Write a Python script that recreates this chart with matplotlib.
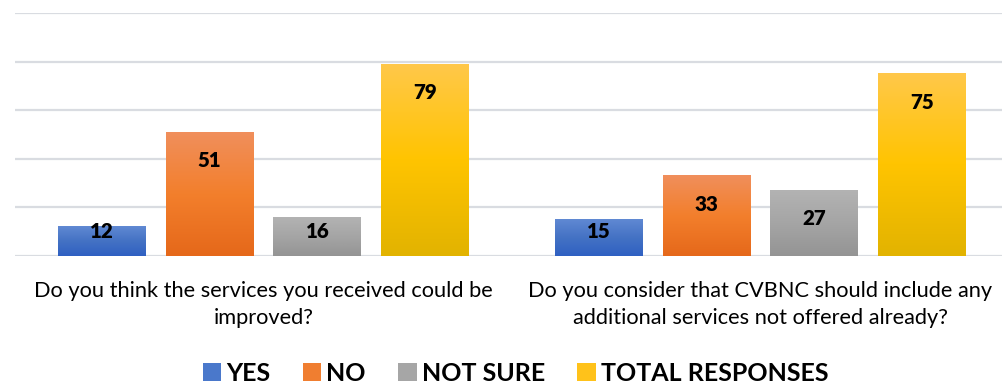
import numpy as np
import matplotlib
matplotlib.use("Agg")
import matplotlib.pyplot as plt
from matplotlib.colors import LinearSegmentedColormap
from matplotlib.patches import Patch

# ---- data ----
categories = ["Do you think the services you received could be\nimproved?",
              "Do you consider that CVBNC should include any\nadditional services not offered already?"]
series_names = ["YES", "NO", "NOT SURE", "TOTAL RESPONSES"]
yes_vals = [12, 15]
no_vals = [51, 33]
not_sure_vals = [16, 27]
total_vals = [79, 75]
y_ticks = [0, 20, 40, 60, 80, 100]

# ---- style ----
FONT = ["Lato", "DejaVu Sans"]
plt.rcParams["font.family"] = FONT
# (bottom, middle, top) gradient colours per series
grads = [
    ("#2F60C2", "#4472C4", "#6089D3"),
    ("#E5681A", "#F37F2C", "#F08F5C"),
    ("#949494", "#A5A5A5", "#B3B3B3"),
    ("#E2B300", "#FFC400", "#FFC84A"),
]
mid_colors = ["#4A78CB", "#F07E30", "#A6A6A6", "#FFC21A"]

W, H = 1002, 385
fig = plt.figure(figsize=(W / 100, H / 100), dpi=100)
ax_left, ax_right = 15, 1009
ax_top, ax_bottom = 13, 256
ax = fig.add_axes([ax_left / W, (H - ax_bottom) / H,
                   (ax_right - ax_left) / W, (ax_bottom - ax_top) / H])

x = np.arange(len(categories))
pitch = 0.217
bw = 0.177
all_vals = [yes_vals, no_vals, not_sure_vals, total_vals]
grad_arr = np.linspace(0, 1, 256).reshape(-1, 1)
px_per_unit = (ax_bottom - ax_top) / 100.0

for i, (vals, g) in enumerate(zip(all_vals, grads)):
    cmap = LinearSegmentedColormap.from_list(f"g{i}", list(g))
    offs = (i - 1.5) * pitch
    bars = ax.bar(x + offs, vals, width=bw, facecolor="none", edgecolor="none", zorder=3)
    for rect, v in zip(bars, vals):
        x0 = rect.get_x()
        ax.imshow(grad_arr, cmap=cmap, origin="lower", aspect="auto",
                  extent=(x0, x0 + rect.get_width(), 0, v), zorder=3,
                  interpolation="bilinear")
        yc = max(v - 28 / px_per_unit, 25 / px_per_unit)
        ax.annotate(str(v), xy=(rect.get_x() + rect.get_width() / 2, yc),
                    xytext=(0, -7), textcoords="offset pixels",
                    ha="center", va="baseline", fontsize=14.8,
                    fontweight="heavy", color="#000000", zorder=5)

ax.set_xlim(-0.5, 1.5)
ax.set_ylim(0, 100)
ax.set_yticks(y_ticks)
ax.set_xticks([])
ax.yaxis.grid(True, color="#D9DCE1", linewidth=1.6)
ax.set_axisbelow(True)
ax.tick_params(axis="y", length=0, labelleft=False)
for s in ax.spines.values():
    s.set_visible(False)

for xi, lab in zip(x, categories):
    ax.annotate(lab, xy=(xi, 0), xycoords=("data", "axes fraction"),
                xytext=(0, -25), textcoords="offset pixels",
                ha="center", va="top", multialignment="center",
                fontsize=15.7, linespacing=1.44, color="#000000")

handles = [Patch(facecolor=c, edgecolor="none") for c in mid_colors]
fig.legend(handles, series_names, loc="center", bbox_to_anchor=(0.5145, 0.031),
           ncol=4, frameon=False, prop={"weight": "bold", "size": 18.0},
           handlelength=0.74, handleheight=0.7, handletextpad=0.2,
           columnspacing=1.3, borderpad=0, borderaxespad=0)

fig.savefig("out.png", dpi=100)
